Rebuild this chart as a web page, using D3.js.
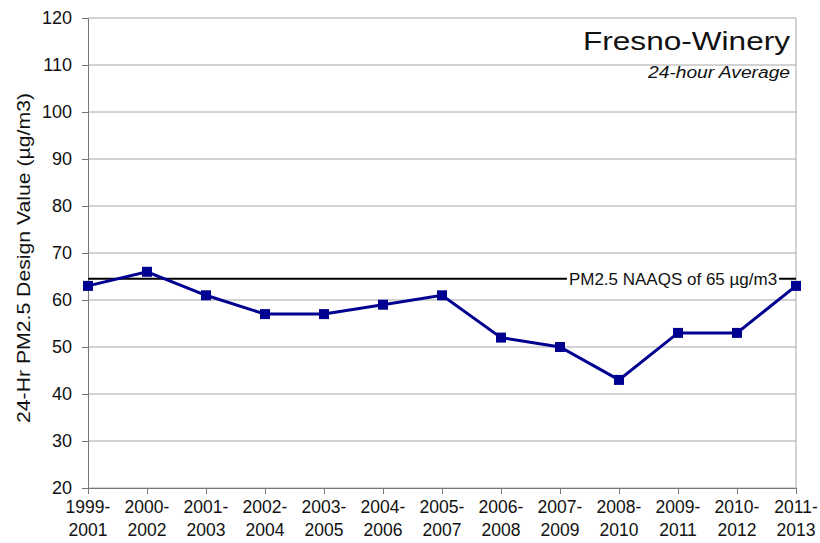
<!DOCTYPE html>
<html>
<head>
<meta charset="utf-8">
<script src="https://cdn.jsdelivr.net/npm/d3@7"></script>
<style>
  body { margin: 0; background: #fff; }
  svg text { font-family: Arial, "Liberation Sans", sans-serif; fill: #111; }
</style>
</head>
<body>
<div id="chart"></div>
<script>
// periods (two-line labels) and design values
const periodStart = ["1999-", "2000-", "2001-", "2002-", "2003-", "2004-", "2005-", "2006-", "2007-", "2008-", "2009-", "2010-", "2011-"];
const periodEnd = ["2001", "2002", "2003", "2004", "2005", "2006", "2007", "2008", "2009", "2010", "2011", "2012", "2013"];
const designValues = [63, 66, 61, 57, 57, 59, 61, 52, 50, 43, 53, 53, 63];
const yTicks = [20, 30, 40, 50, 60, 70, 80, 90, 100, 110, 120];
const naaqsLevel = 64.5;

const w = 820, h = 543;
const margin = {left: 88, right: 24, top: 18, bottom: 55};

let svg = d3.select("#chart").append("svg")
  .attr("width", w)
  .attr("height", h);

let x = d3.scalePoint()
  .domain(d3.range(periodStart.length))
  .range([margin.left, w - margin.right]);

let y = d3.scaleLinear()
  .domain([20, 120])
  .range([h - margin.bottom, margin.top]);

// gridlines
svg.append("g")
  .selectAll("line")
  .data(yTicks)
  .enter().append("line")
  .attr("x1", margin.left)
  .attr("x2", w - margin.right)
  .attr("y1", d => y(d))
  .attr("y2", d => y(d))
  .attr("stroke", "#a6a6a6")
  .attr("stroke-width", 1);

// right border
svg.append("line")
  .attr("x1", w - margin.right).attr("x2", w - margin.right)
  .attr("y1", y(120)).attr("y2", y(20))
  .attr("stroke", "#a6a6a6");

// y axis
let yAxis = svg.append("g")
  .attr("transform", "translate(" + margin.left + ",0)")
  .call(d3.axisLeft(y).tickValues(yTicks).tickSize(6).tickPadding(10));
yAxis.select(".domain").attr("stroke", "#777");
yAxis.selectAll(".tick line").attr("stroke", "#777");
yAxis.selectAll("text").style("font-size", "18px").attr("fill", "#111");

// x axis
let xAxis = svg.append("g")
  .attr("transform", "translate(0," + y(20) + ")")
  .call(d3.axisBottom(x).tickSize(6).tickFormat(""));
xAxis.select(".domain").attr("stroke", "#777");
xAxis.selectAll(".tick line").attr("stroke", "#777");

let xl = svg.append("g").selectAll("text")
  .data(periodStart)
  .enter().append("text")
  .attr("x", (d, i) => x(i))
  .attr("y", y(20) + 25)
  .attr("text-anchor", "middle")
  .style("font-size", "17.5px");
xl.append("tspan").attr("x", (d, i) => x(i)).text(d => d);
xl.append("tspan").attr("x", (d, i) => x(i)).attr("dy", 23).text((d, i) => periodEnd[i]);

// y axis title
svg.append("text")
  .attr("transform", "translate(30," + 258 + ") rotate(-90)")
  .attr("text-anchor", "middle")
  .attr("textLength", 330)
  .attr("lengthAdjust", "spacingAndGlyphs")
  .style("font-size", "18px")
  .text("24-Hr PM2.5 Design Value (µg/m3)");

// NAAQS line with label
svg.append("line")
  .attr("x1", margin.left).attr("x2", w - margin.right)
  .attr("y1", y(naaqsLevel)).attr("y2", y(naaqsLevel))
  .attr("stroke", "#000")
  .attr("stroke-width", 2);

let naaqsBg = svg.append("rect").attr("fill", "#fff");
let naaqsLabel = svg.append("text")
  .attr("x", 673)
  .attr("y", y(naaqsLevel) + 6)
  .attr("text-anchor", "middle")
  .style("font-size", "17px")
  .text("PM2.5 NAAQS of 65 µg/m3");
let bb = naaqsLabel.node().getBBox();
naaqsBg
  .attr("x", bb.x - 2).attr("y", bb.y + 3)
  .attr("width", bb.width + 4).attr("height", bb.height - 6);

// data line
let line = d3.line()
  .x((d, i) => x(i))
  .y(d => y(d));

svg.append("path")
  .datum(designValues)
  .attr("d", line)
  .attr("fill", "none")
  .attr("stroke", "#000090")
  .attr("stroke-width", 3);

svg.selectAll("rect.mark")
  .data(designValues)
  .enter().append("rect")
  .attr("class", "mark")
  .attr("x", (d, i) => x(i) - 5)
  .attr("y", d => y(d) - 5)
  .attr("width", 10)
  .attr("height", 10)
  .attr("fill", "#000090");

// title
svg.append("text")
  .attr("x", 790)
  .attr("y", 50)
  .attr("text-anchor", "end")
  .attr("textLength", 207)
  .attr("lengthAdjust", "spacingAndGlyphs")
  .style("font-size", "25px")
  .text("Fresno-Winery");

svg.append("text")
  .attr("x", 790)
  .attr("y", 78)
  .attr("text-anchor", "end")
  .attr("textLength", 142)
  .attr("lengthAdjust", "spacingAndGlyphs")
  .style("font-size", "16px")
  .style("font-style", "italic")
  .text("24-hour Average");
</script>
</body>
</html>
